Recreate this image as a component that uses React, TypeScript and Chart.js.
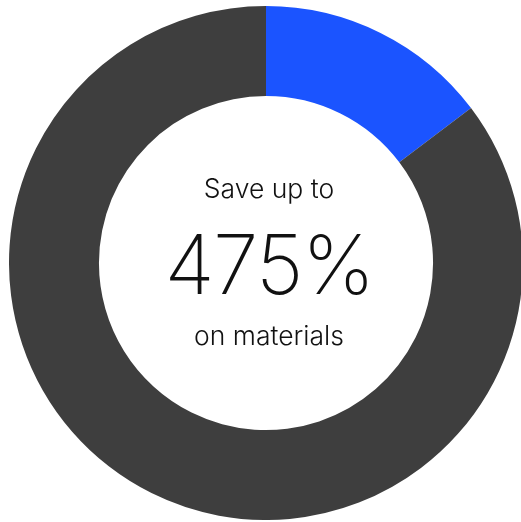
import React, { useEffect, useRef } from "react";
import { Chart, registerables } from "chart.js";

Chart.register(...registerables);

const categories: string[] = ["Savings", "Remaining"];
const values: number[] = [14.7, 85.3];
const sliceColors: string[] = ["#1B54FF", "#3E3E3E"];
const headline: string = "Save up to";
const bigValue: string = "475%";
const subline: string = "on materials";

export default function App() {
  const ref = useRef<HTMLCanvasElement | null>(null);

  useEffect(() => {
    if (!ref.current) return;
    const chart = new Chart(ref.current, {
      type: "doughnut",
      data: {
        labels: categories,
        datasets: [
          {
            data: values,
            backgroundColor: sliceColors,
            borderWidth: 0,
            hoverOffset: 0,
          },
        ],
      },
      options: {
        animation: false,
        responsive: false,
        maintainAspectRatio: false,
        cutout: "65%",
        layout: { padding: 0 },
        plugins: {
          legend: { display: false },
          tooltip: { enabled: false },
        },
      },
    });
    return () => chart.destroy();
  }, []);

  const font = "Inter, 'Noto Sans', sans-serif";
  return (
    <div style={{ position: "fixed", left: 9, top: 6, width: 514, height: 514 }}>
      <canvas ref={ref} width={514} height={514} style={{ width: 514, height: 514, display: "block" }} />
      <div
        style={{
          position: "absolute",
          left: 3,
          width: 514,
          top: 167,
          textAlign: "center",
          fontFamily: font,
          fontWeight: 300,
          fontSize: 26.5,
          lineHeight: "30px",
          color: "#111",
        }}
      >
        {headline}
      </div>
      <div
        style={{
          position: "absolute",
          left: 3,
          width: 514,
          top: 209,
          textAlign: "center",
          fontFamily: font,
          fontWeight: 200,
          fontSize: 82,
          lineHeight: "100px",
          letterSpacing: -1.5,
          color: "#111",
        }}
      >
        {bigValue}
      </div>
      <div
        style={{
          position: "absolute",
          left: 3,
          width: 514,
          top: 314,
          textAlign: "center",
          fontFamily: font,
          fontWeight: 300,
          fontSize: 26.5,
          lineHeight: "30px",
          color: "#111",
        }}
      >
        {subline}
      </div>
    </div>
  );
}
